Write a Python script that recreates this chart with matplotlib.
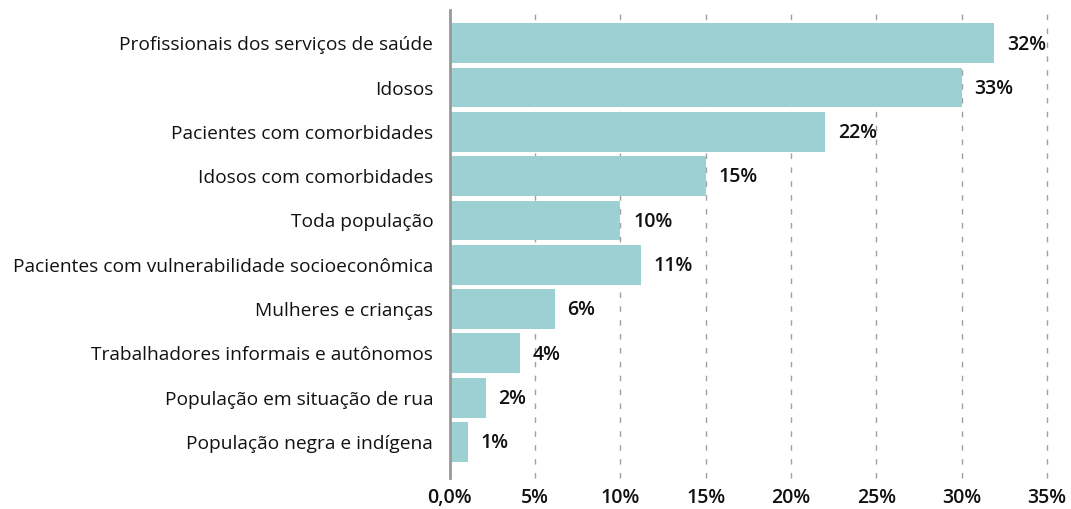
import matplotlib
matplotlib.use("Agg")
from matplotlib import pyplot as plt

plt.rcParams['font.family'] = ['Open Sans', 'DejaVu Sans']

categorias = ['Profissionais dos serviços de saúde', 'Idosos', 'Pacientes com comorbidades',
              'Idosos com comorbidades', 'Toda população',
              'Pacientes com vulnerabilidade socioeconômica', 'Mulheres e crianças',
              'Trabalhadores informais e autônomos', 'População em situação de rua',
              'População negra e indígena']
valores = [31.9, 30.0, 22.0, 15.0, 10.0, 11.2, 6.15, 4.1, 2.1, 1.05]
rotulos = ['32%', '33%', '22%', '15%', '10%', '11%', '6%', '4%', '2%', '1%']
ticks = [0, 5, 10, 15, 20, 25, 30, 35]
tick_labels = ['0,0%', '5%', '10%', '15%', '20%', '25%', '30%', '35%']

fig = plt.figure(figsize=(10.71, 5.09), dpi=100)
ax = fig.add_axes([0.420, 0.061, 0.5576, 0.919])

pos = list(range(len(categorias)))
ax.barh(pos, valores, height=0.9, color='#9dd0d2', zorder=2)
for p, v, r in zip(pos, valores, rotulos):
    ax.text(v + 0.75, p + 0.03, r, va='center', ha='left', fontsize=14,
            fontweight='semibold', color='#111111', zorder=3)

ax.set_ylim(len(categorias) - 1 + 0.81, -0.745)
ax.set_xlim(0, 35)
ax.set_yticks(pos)
ax.set_yticklabels(categorias, fontsize=13.8, color='#111111')
ax.set_xticks(ticks)
ax.set_xticklabels(tick_labels, fontsize=14, fontweight='semibold', color='#111111')
ax.tick_params(axis='both', length=0)
ax.tick_params(axis='y', pad=12)
ax.tick_params(axis='x', pad=7)

ax.grid(axis='x', color='#a0a0a0', linestyle=(0, (4, 6)), linewidth=1, zorder=1)
for line in ax.get_xgridlines():
    line.set_clip_on(False)
for s in ['top', 'right', 'bottom']:
    ax.spines[s].set_visible(False)
ax.spines['left'].set_color('#999999')
ax.spines['left'].set_linewidth(2)
ax.spines['left'].set_zorder(4)

fig.savefig('out.png', dpi=100)
